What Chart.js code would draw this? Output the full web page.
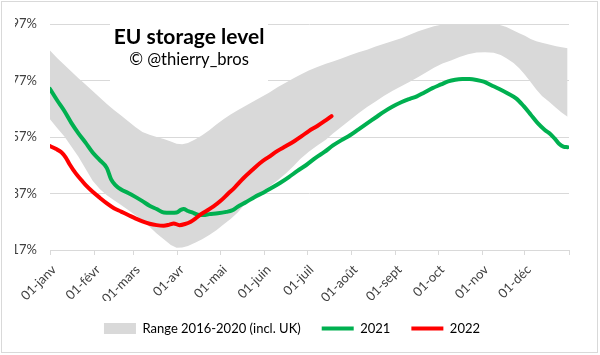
<!DOCTYPE html>
<html>
<head>
<meta charset="utf-8">
<script src="https://cdn.jsdelivr.net/npm/chart.js@4"></script>
<style>
  html, body { margin: 0; padding: 0; background: #ffffff; }
  #wrap { position: relative; width: 600px; height: 355px; overflow: hidden; background: #fff; }
  #c { position: absolute; left: 0; top: 0; }
  #frame { position: absolute; left: 1px; top: 1px; width: 597px; height: 352px; box-sizing: border-box; border: 1px solid #d9d9d9; pointer-events: none; }
  #titlebox { position: absolute; left: 110px; top: 14px; width: 158px; height: 72px; background: #fff; }
  .t1 { position: absolute; left: -10px; width: 178px; top: 11px; text-align: center; font: bold 21px Lato, "Liberation Sans", sans-serif; line-height: 21px; color: #000; white-space: nowrap; }
  .t2 { position: absolute; left: -10px; width: 178px; top: 37px; text-align: center; font: 16.6px Lato, "Liberation Sans", sans-serif; line-height: 17px; color: #000; white-space: nowrap; }
</style>
</head>
<body>
<div id="wrap">
  <canvas id="c" width="600" height="355"></canvas>
  <div id="titlebox"><div class="t1">EU storage level</div><div class="t2">© @thierry_bros</div></div>
  <div id="frame"></div>
</div>
<script>
// ---- data (day of year, % full) ----
const monthStarts = [0, 31, 59, 90, 120, 151, 181, 212, 243, 273, 304, 334, 365];
const monthLabels = ['01-janv', '01-févr', '01-mars', '01-avr', '01-mai', '01-juin', '01-juil', '01-août', '01-sept', '01-oct', '01-nov', '01-déc'];
const yTicks = [17, 37, 57, 77, 97];
const legendLabels = ['Range 2016-2020 (incl. UK)', '2021', '2022'];

const bandDays = [0,5,10,15,20,25,30,35,40,45,50,55,60,65,70,75,80,85,89,93,97,102,107,112,117,122,127,132,137,142,148,154,160,166,171,176,182,188,194,199,205,211,217,223,229,235,241,247,253,259,265,270,276,282,288,294,300,306,312,317,321,326,330,334,338,342,346,351,356,360,364];
const bandHigh = [87.6,85.0,82.6,80.2,77.8,75.6,73.3,71.0,68.7,66.6,64.6,62.6,60.5,58.8,57.8,57.0,56.3,55.4,54.6,54.4,54.9,56.1,57.6,59.4,61.4,63.3,65.0,66.5,67.9,69.3,71.0,72.7,74.6,76.3,77.7,79.0,80.5,81.8,82.9,83.7,84.8,85.9,87.0,87.9,89.0,90.0,91.0,92.0,93.2,94.4,95.4,96.2,96.8,97.3,97.6,97.8,97.8,97.5,97.2,96.6,95.9,94.7,93.7,92.8,91.7,90.9,90.4,89.7,89.1,88.8,88.4];
const bandLow = [63.3,60.2,57.3,53.6,50.0,45.8,41.5,38.6,36.4,34.6,32.9,31.2,29.3,27.5,25.2,22.8,20.8,18.8,17.8,17.9,18.4,19.6,20.8,22.3,24.0,26.0,28.0,30.3,33.2,35.5,37.3,39.4,41.6,44.2,46.6,49.2,51.8,54.0,56.0,58.2,60.6,63.0,65.4,67.6,69.6,71.6,73.4,75.0,76.6,78.2,80.0,81.5,83.0,84.1,85.3,86.3,86.9,87.0,86.8,86.0,84.9,83.2,81.3,79.0,76.5,73.8,71.5,69.5,67.3,65.6,64.2];

const days2021 = [0,5,10,15,20,25,30,35,40,43,46,50,55,60,65,70,75,80,85,89,92,94,97,100,104,108,112,118,124,128,132,138,144,150,156,162,168,174,180,187,193,199,205,211,217,223,229,235,241,247,253,258,263,269,275,280,285,290,295,300,305,310,316,322,328,333,338,343,348,352,355,358,361,364];
const vals2021 = [74.0,70.0,66.3,62.0,58.3,55.0,51.5,48.8,46.0,42.0,40.0,38.4,37.2,35.8,34.3,32.7,31.5,30.3,30.2,30.3,31.2,31.5,30.8,30.3,29.5,29.4,29.7,30.0,30.5,31.0,32.3,34.0,35.8,37.3,39.0,40.8,42.8,45.0,47.0,49.7,51.7,54.0,55.9,57.6,59.7,61.8,63.9,66.0,67.8,69.3,70.5,71.4,72.7,74.3,75.6,76.7,77.3,77.5,77.5,77.2,76.6,75.4,74.0,72.4,70.6,68.0,65.0,61.9,59.5,58.0,56.4,54.6,53.6,53.4];

const days2022 = [0,4,8,11,14,18,22,26,30,35,40,45,50,55,60,65,70,75,80,84,87,91,95,99,102,106,110,115,120,125,130,136,142,148,154,160,166,172,177,182,188,193,198];
const vals2022 = [53.8,52.8,51.6,49.8,47.2,44.2,41.8,39.5,37.6,35.5,33.5,31.8,30.6,29.4,28.2,27.1,26.3,25.8,25.6,26.0,26.4,25.8,26.2,27.0,28.0,29.6,30.8,32.4,34.4,36.8,39.2,42.4,45.2,47.9,50.0,52.1,53.8,55.6,57.3,59.1,60.9,62.6,64.4];

// ---- chart ----
const PAD = { left: 15, right: 31, top: 24, bottom: 10 };
const PLOT_BOTTOM = 250;
const toXY = (xs, ys) => xs.map((d, i) => ({ x: d, y: ys[i] }));

Chart.defaults.font.family = 'Lato, "Liberation Sans", sans-serif';
Chart.defaults.color = '#404040';

new Chart(document.getElementById('c'), {
  type: 'line',
  data: {
    datasets: [
      { label: 'low', data: toXY(bandDays, bandLow), borderWidth: 0, pointRadius: 0, fill: false, order: 3, borderColor: 'rgba(0,0,0,0)' },
      { label: legendLabels[0], data: toXY(bandDays, bandHigh), borderWidth: 0, pointRadius: 0, fill: '-1', backgroundColor: '#d9d9d9', borderColor: 'rgba(0,0,0,0)', order: 2 },
      { label: legendLabels[1], data: toXY(days2021, vals2021), borderColor: '#00b050', borderWidth: 4, pointRadius: 0, fill: false, order: 1, borderJoinStyle: 'round', borderCapStyle: 'round', cubicInterpolationMode: 'monotone' },
      { label: legendLabels[2], data: toXY(days2022, vals2022), borderColor: '#ff0000', borderWidth: 4, pointRadius: 0, fill: false, order: 0, borderJoinStyle: 'round', borderCapStyle: 'round', cubicInterpolationMode: 'monotone' }
    ]
  },
  options: {
    responsive: false,
    animation: false,
    devicePixelRatio: 1,
    layout: { padding: PAD },
    plugins: {
      title: { display: false },
      tooltip: { enabled: false },
      legend: {
        display: true,
        position: 'bottom',
        labels: {
          usePointStyle: true,
          pointStyleWidth: 32,
          boxHeight: 11,
          padding: 21,
          color: '#404040',
          font: { size: 13 },
          generateLabels: () => [
            { text: legendLabels[0], fillStyle: '#d9d9d9', strokeStyle: '#d9d9d9', lineWidth: 0, pointStyle: 'rect', datasetIndex: 1, hidden: false },
            { text: legendLabels[1], fillStyle: '#00b050', strokeStyle: '#00b050', lineWidth: 4, lineCap: 'butt', pointStyle: 'line', datasetIndex: 2, hidden: false },
            { text: legendLabels[2], fillStyle: '#ff0000', strokeStyle: '#ff0000', lineWidth: 4, lineCap: 'butt', pointStyle: 'line', datasetIndex: 3, hidden: false }
          ]
        }
      }
    },
    scales: {
      x: {
        type: 'linear',
        min: 0,
        max: 365,
        afterBuildTicks: (s) => { s.ticks = monthStarts.map(v => ({ value: v })); },
        afterFit: (s) => {
          const ch = s.chart;
          const lh = ch.legend ? ch.legend.height : 0;
          s.height = Math.max(0, ch.height - PAD.bottom - lh - PLOT_BOTTOM);
        },
        ticks: {
          autoSkip: false,
          minRotation: 45,
          maxRotation: 45,
          padding: 7,
          labelOffset: 4,
          color: '#404040',
          font: { size: 13 },
          callback: (v, i) => monthLabels[i] || ''
        },
        grid: { drawOnChartArea: false, drawTicks: true, tickLength: 5, color: '#d9d9d9' },
        border: { display: true, color: '#d9d9d9', width: 1 }
      },
      y: {
        min: 17,
        max: 97,
        afterBuildTicks: (s) => { s.ticks = yTicks.map(v => ({ value: v })); },
        afterFit: (s) => { s.width = 50 - PAD.left; },
        ticks: {
          padding: 13,
          color: '#404040',
          font: { size: 13 },
          callback: (v) => v + '%'
        },
        grid: { drawTicks: false, color: '#d9d9d9', lineWidth: 1 },
        border: { display: false }
      }
    }
  }
});
</script>
</body>
</html>
